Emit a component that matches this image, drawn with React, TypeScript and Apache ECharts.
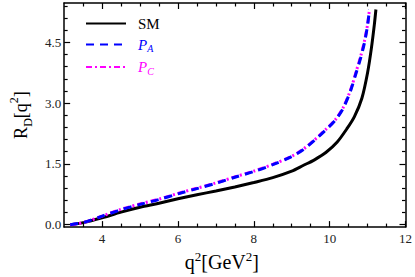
import React, { useEffect, useRef } from "react";
import * as echarts from "echarts";

// ---- data ----
const qSM = [3.16, 3.5, 4.0, 4.5, 5.0, 5.5, 6.0, 6.5, 7.0, 7.5, 8.0, 8.5, 9.0, 9.3, 9.6, 9.9, 10.2, 10.45, 10.65, 10.85, 11.0, 11.1, 11.18, 11.22];
const rSM = [0, 0.05, 0.17, 0.31, 0.43, 0.53, 0.64, 0.74, 0.83, 0.93, 1.04, 1.16, 1.32, 1.46, 1.6, 1.78, 2.04, 2.36, 2.66, 3.12, 3.75, 4.35, 4.95, 5.31];

const qPA = [3.16, 3.5, 4.0, 4.5, 5.0, 5.5, 6.0, 6.5, 7.0, 7.5, 8.0, 8.5, 9.0, 9.3, 9.6, 9.9, 10.15, 10.35, 10.55, 10.7, 10.82, 10.92, 11.0, 11.05];
const rPA = [0, 0.05, 0.21, 0.37, 0.5, 0.62, 0.76, 0.89, 1.02, 1.17, 1.31, 1.48, 1.68, 1.85, 2.08, 2.34, 2.58, 2.86, 3.3, 3.75, 4.12, 4.5, 4.92, 5.31];

const qPC = [3.16, 3.5, 4.0, 4.5, 5.0, 5.5, 6.0, 6.5, 7.0, 7.5, 8.0, 8.5, 9.0, 9.3, 9.6, 9.9, 10.15, 10.35, 10.55, 10.7, 10.82, 10.92, 11.0, 11.05];
const rPC = [0, 0.05, 0.21, 0.38, 0.51, 0.63, 0.77, 0.9, 1.03, 1.18, 1.32, 1.49, 1.69, 1.86, 2.09, 2.35, 2.59, 2.88, 3.32, 3.78, 4.16, 4.54, 4.94, 5.31];

const xMajor = [4, 6, 8, 10, 12];
const xMinor = [3.5, 4.5, 5, 5.5, 6.5, 7, 7.5, 8.5, 9, 9.5, 10.5, 11, 11.5];
const yMajor = [0, 1.5, 3.0, 4.5];
const yMinor = [0.3, 0.6, 0.9, 1.2, 1.8, 2.1, 2.4, 2.7, 3.3, 3.6, 3.9, 4.2, 4.8, 5.1, 5.4];

const X_MIN = 3;
const X_MAX = 12;
const Y_MIN = -0.06;
const Y_MAX = 5.47;

const FONT = "Liberation Serif";

function pairs(xs: number[], ys: number[]) {
  return xs.map((x, i) => [x, ys[i]]);
}

export default function App() {
  const ref = useRef<HTMLDivElement>(null);
  useEffect(() => {
    if (!ref.current) return;
    const chart = echarts.init(ref.current, null, { renderer: "svg" });

    const tickRich = { t: { fontFamily: FONT, fontSize: 13, color: "#222" } };

    const mkX = (pos: "bottom" | "top", major: boolean, labels: boolean) => ({
      type: "value",
      position: pos,
      min: X_MIN,
      max: X_MAX,
      splitLine: { show: false },
      axisLine: { show: major, onZero: false, lineStyle: { color: "#000", width: 1.5 } },
      axisTick: {
        show: true,
        inside: true,
        length: major ? 6 : 3.5,
        customValues: major ? xMajor : xMinor,
        lineStyle: { color: "#000", width: 1.2 },
      },
      axisLabel: labels
        ? {
            show: true,
            customValues: xMajor,
            margin: 5,
            fontFamily: FONT,
            fontSize: 13,
            color: "#222",
            formatter: (v: number) => `{t|${v}}`,
            rich: tickRich,
          }
        : { show: false },
    });

    const mkY = (pos: "left" | "right", major: boolean, labels: boolean) => ({
      type: "value",
      position: pos,
      min: Y_MIN,
      max: Y_MAX,
      splitLine: { show: false },
      axisLine: { show: major, onZero: false, lineStyle: { color: "#000", width: 1.5 } },
      axisTick: {
        show: true,
        inside: true,
        length: major ? 6 : 3.5,
        customValues: major ? yMajor : yMinor,
        lineStyle: { color: "#000", width: 1.2 },
      },
      axisLabel: labels
        ? {
            show: true,
            customValues: yMajor,
            margin: 3,
            fontFamily: FONT,
            fontSize: 13,
            color: "#222",
            formatter: (v: number) => `{t|${v.toFixed(1)}}`,
            rich: tickRich,
          }
        : { show: false },
    });

    const xBottom: any = mkX("bottom", true, true);
    xBottom.name = "{a|q}{sup|2}{a|[GeV}{sup|2}{a|]}";
    xBottom.nameLocation = "middle";
    xBottom.nameGap = 17;
    xBottom.nameTextStyle = {
      fontFamily: FONT,
      padding: [0, 26, 0, 0],
      rich: {
        a: { fontFamily: FONT, fontSize: 20, color: "#000", lineHeight: 22, verticalAlign: "bottom" },
        sup: { fontFamily: FONT, fontSize: 13, color: "#000", lineHeight: 13, verticalAlign: "top" },
      },
    };

    const yLeft: any = mkY("left", true, true);
    yLeft.name = "{a|R}{sub|D}{a|[q}{sup|2}{a|]}";
    yLeft.nameLocation = "middle";
    yLeft.nameRotate = 90;
    yLeft.nameGap = 24;
    yLeft.nameTextStyle = {
      fontFamily: FONT,
      rich: {
        a: { fontFamily: FONT, fontSize: 18, color: "#000", lineHeight: 26, verticalAlign: "middle" },
        sup: { fontFamily: FONT, fontSize: 12, color: "#000", lineHeight: 12, verticalAlign: "top" },
        sub: { fontFamily: FONT, fontSize: 12, color: "#000", lineHeight: 12, verticalAlign: "bottom" },
      },
    };

    chart.setOption({
      animation: false,
      backgroundColor: "#fff",
      textStyle: { fontFamily: FONT },
      grid: { left: 44, right: 6, top: 3, bottom: 36 },
      xAxis: [xBottom, mkX("bottom", false, false), mkX("top", true, false), mkX("top", false, false)],
      yAxis: [yLeft, mkY("left", false, false), mkY("right", true, false), mkY("right", false, false)],
      legend: {
        orient: "vertical",
        left: 80,
        top: 11,
        padding: 5,
        itemWidth: 40,
        itemHeight: 14,
        itemGap: 6,
        itemStyle: { opacity: 0 },
        data: ["SM", "P_A", "P_C"],
        formatter: (name: string) =>
          name === "SM" ? "{sm|SM}" : name === "P_A" ? "{pa|P}{sa|A}" : "{pc|P}{sc|C}",
        textStyle: {
          fontFamily: FONT,
          padding: [0, 0, 0, 7],
          rich: {
            sm: { fontFamily: FONT, fontSize: 15, color: "#000", lineHeight: 18 },
            pa: { fontFamily: FONT, fontStyle: "italic", fontSize: 15, color: "#0000ff", lineHeight: 18, verticalAlign: "middle" },
            sa: { fontFamily: FONT, fontStyle: "italic", fontSize: 10, color: "#0000ff", lineHeight: 10, verticalAlign: "bottom" },
            pc: { fontFamily: FONT, fontStyle: "italic", fontSize: 15, color: "#ff00ff", lineHeight: 18, verticalAlign: "middle" },
            sc: { fontFamily: FONT, fontStyle: "italic", fontSize: 10, color: "#ff00ff", lineHeight: 10, verticalAlign: "bottom" },
          },
        },
      },
      series: [
        {
          name: "SM",
          type: "line",
          data: pairs(qSM, rSM),
          symbol: "none",
          smooth: 0.3,
          lineStyle: { color: "#000", width: 3 },
          itemStyle: { color: "#000" },
        },
        {
          name: "P_C",
          type: "line",
          data: pairs(qPC, rPC),
          symbol: "none",
          smooth: 0.3,
          lineStyle: { color: "#ff00ff", width: 3, type: [6, 3, 2, 3] },
          itemStyle: { color: "#ff00ff" },
        },
        {
          name: "P_A",
          type: "line",
          data: pairs(qPA, rPA),
          symbol: "none",
          smooth: 0.3,
          lineStyle: { color: "#0000ff", width: 3, type: [8, 6] },
          itemStyle: { color: "#0000ff" },
        },
      ],
    });
    return () => chart.dispose();
  }, []);
  return <div ref={ref} style={{ width: 415, height: 277, position: "absolute", left: 0, top: 0 }} />;
}
